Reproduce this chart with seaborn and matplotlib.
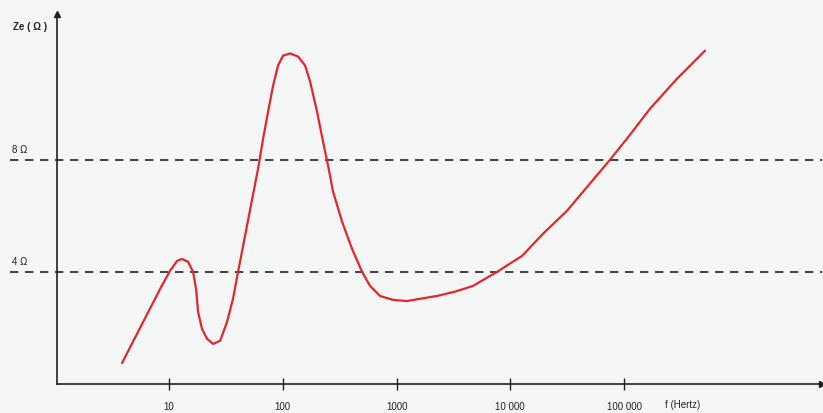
#!/usr/bin/env python3
# Loudspeaker impedance curve (Ze vs frequency, log scale)

import pandas as pd
import matplotlib
matplotlib.use("Agg")
import matplotlib.pyplot as plt
import seaborn as sns

# ============================================================================
# DATA
# ============================================================================
freq_hz = [3.86, 5.91, 8.34, 10.2, 11.76, 13.01, 14.69, 16.26, 17.28, 17.98,
           19.5, 21.6, 24.4, 28.1, 32.3, 36.5, 40.4, 60.6, 67.1,
           74.2, 82.1, 90.8, 100.5, 115.8, 136.2, 156.9, 173.6, 200.0, 225.8,
           249.9, 276.5, 331.8, 406.2, 497.4, 584.8, 716.0, 931.6, 1237.0,
           1609.0, 2270.0, 3300.0, 4705.0, 7645.0, 12690.0, 19400.0, 31540.0,
           48260.0, 75330.0, 112900.0, 169300.0, 292300.0, 515400.0]
impedance_ohm = [0.75, 2.21, 3.39, 4.04, 4.39, 4.46, 4.36, 4.0, 3.39, 2.57,
                 1.96, 1.61, 1.43, 1.54, 2.21, 3.04, 4.0, 7.68,
                 8.75, 9.71, 10.64, 11.36, 11.71, 11.79, 11.68, 11.36, 10.79,
                 9.71, 8.64, 7.79, 6.86, 5.79, 4.82, 4.0, 3.5, 3.14, 3.0,
                 2.96, 3.04, 3.14, 3.3, 3.5, 4.0, 4.57, 5.36, 6.18, 7.07, 8.0,
                 8.89, 9.82, 10.89, 11.89]
ref_levels = [8, 4]
ref_labels = ["8 Ω", "4 Ω"]
tick_freqs = [10, 100, 1000, 10000, 100000]
tick_labels = ["10", "100", "1000", "10 000", "100 000"]

df = pd.DataFrame({"f": freq_hz, "Ze": impedance_ohm})

# ============================================================================
# THEME SETTINGS
# ============================================================================
sns.set_theme(style="white")
plt.rcParams['font.family'] = ['Liberation Sans', 'DejaVu Sans']
bg = '#f5f7f6'
ink = '#222222'
y_max = 13.2

# ============================================================================
# CREATE PLOT
# ============================================================================
fig = plt.figure(figsize=(8.23, 4.14), dpi=100, facecolor=bg)
ax = fig.add_axes([0.0693, 0.070, 0.9295, 0.894])
ax.set_facecolor(bg)

ax.set_xscale('log')
ax.set_xlim(1.035, 5.5e6)
ax.set_ylim(0, y_max)

# reference impedance lines (extend left of the y axis)
for lvl, lab in zip(ref_levels, ref_labels):
    ax.plot([-0.0614, 1], [lvl / y_max, lvl / y_max], transform=ax.transAxes,
            color=ink, lw=1.2, dashes=(5, 4), clip_on=False, zorder=2)
    ax.text(-0.0585, lvl / y_max + 0.016, lab, transform=ax.transAxes,
            fontsize=7, color=ink, ha='left', va='bottom')

sns.lineplot(data=df, x="f", y="Ze", color='#e3262b', lw=1.6, ax=ax,
             zorder=3)
ax.lines[-1].set_solid_joinstyle('round')

# axes styling
for side in ['top', 'right']:
    ax.spines[side].set_visible(False)
for side in ['left', 'bottom']:
    ax.spines[side].set_color(ink)
    ax.spines[side].set_linewidth(1.2)

ax.set_xticks(tick_freqs)
ax.set_xticklabels(tick_labels)
ax.xaxis.set_minor_locator(matplotlib.ticker.NullLocator())
ax.tick_params(axis='x', direction='inout', length=8, width=1.0,
               colors=ink, labelsize=7, pad=8, bottom=True)
ax.set_yticks([])
ax.set_xlabel("")
ax.set_ylabel("")

# arrow heads
ax.plot(1, 0, '>', color=ink, ms=5, transform=ax.transAxes, clip_on=False)
ax.plot(0, 1, '^', color=ink, ms=5, transform=ax.transAxes, clip_on=False)

# axis titles
ax.text(-0.057, 0.967, "Ze ( Ω )", transform=ax.transAxes, fontsize=7,
        fontweight='bold', color=ink, ha='left', va='center')
ax.text(0.795, -0.054, "f (Hertz)", transform=ax.transAxes, fontsize=7,
        color=ink, ha='left', va='center')

# ============================================================================
# SAVE OUTPUT
# ============================================================================
plt.savefig("out.png", dpi=100, facecolor=bg)
plt.close()
